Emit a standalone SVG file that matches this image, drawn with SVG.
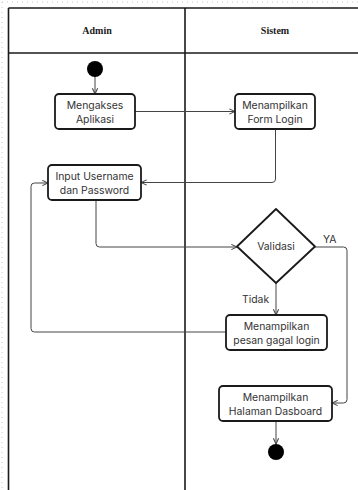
<svg xmlns="http://www.w3.org/2000/svg" width="358" height="490" viewBox="0 0 358 490">
<style>
.lane{fill:none;stroke:#1a1a1a;stroke-width:1.6}
.hdr{font-family:"Liberation Serif",serif;font-weight:bold;font-size:10px;fill:#1a1a1a;text-anchor:middle}
.box{fill:#fff;stroke:#1a1a1a;stroke-width:1.8}
.txt{font-family:Inter,"Noto Sans",sans-serif;font-size:10.4px;fill:#333;text-anchor:middle}
.lbl{font-family:Inter,"Noto Sans",sans-serif;font-size:10.4px;fill:#333}
.con{fill:none;stroke:#444;stroke-width:1;marker-end:url(#arr)}
.dot{fill:#000}
</style>
<defs>
<marker id="arr" viewBox="0 0 8 8" refX="7.5" refY="4" markerWidth="7" markerHeight="7" markerUnits="userSpaceOnUse" orient="auto">
<path d="M1,1 L7.5,4 L1,7" fill="none" stroke="#444" stroke-width="1.2"/>
</marker>
</defs>
<rect width="358" height="490" fill="#fff"/>
<g id="page-border" fill="none" stroke="#c8c8c8" stroke-width="1" stroke-dasharray="1 4">
<line x1="2" y1="2" x2="358" y2="2"/>
<line x1="2" y1="2" x2="2" y2="490"/>
</g>
<g id="swimlanes">
<line class="lane" x1="8.5" y1="8" x2="358" y2="8"/>
<line class="lane" x1="8.5" y1="53" x2="358" y2="53"/>
<line class="lane" x1="8.5" y1="8" x2="8.5" y2="490"/>
<line class="lane" x1="185" y1="8" x2="185" y2="490"/>
<text class="hdr" x="97" y="34">Admin</text>
<text class="hdr" x="275" y="34">Sistem</text>
</g>
<g id="connectors">
<path class="con" d="M95,76 V94"/>
<path class="con" d="M135,111.5 H235"/>
<path class="con" d="M275.5,129 V179 Q275.5,182.5 272,182.5 H141"/>
<path class="con" d="M96,200 V243.5 Q96,247 99.5,247 H237"/>
<path class="con" d="M315,247 H343.5 Q347,247 347,250.5 V399.5 Q347,403 343.5,403 H332"/>
<path class="con" d="M276,283 V315"/>
<path class="con" d="M226,332 H34.5 Q31,332 31,328.5 V186.5 Q31,183 34.5,183 H48"/>
<path class="con" d="M276,421 V444"/>
</g>
<g id="start"><circle class="dot" cx="95" cy="69" r="8"/></g>
<g id="mengakses">
<rect class="box" x="55" y="94" width="80" height="35" rx="4"/>
<text class="txt" x="95" y="109">Mengakses</text>
<text class="txt" x="95" y="123">Aplikasi</text>
</g>
<g id="form-login">
<rect class="box" x="235" y="94" width="80" height="35" rx="4"/>
<text class="txt" x="275" y="109">Menampilkan</text>
<text class="txt" x="275" y="123">Form Login</text>
</g>
<g id="input">
<rect class="box" x="48" y="165" width="93" height="35" rx="4"/>
<text class="txt" x="94.5" y="180">Input Username</text>
<text class="txt" x="94.5" y="194">dan Password</text>
</g>
<g id="validasi">
<path class="box" d="M276,209 L315,246.5 L276,283 L237,246.5 Z" stroke-linejoin="round"/>
<text class="txt" x="276" y="250">Validasi</text>
</g>
<g id="labels">
<text class="lbl" x="323" y="243">YA</text>
<text class="lbl" x="242" y="303">Tidak</text>
</g>
<g id="gagal">
<rect class="box" x="226" y="315" width="101" height="35" rx="4"/>
<text class="txt" x="276.5" y="330">Menampilkan</text>
<text class="txt" x="276.5" y="344">pesan gagal login</text>
</g>
<g id="dasboard">
<rect class="box" x="219" y="386" width="113" height="35" rx="4"/>
<text class="txt" x="275.5" y="401">Menampilkan</text>
<text class="txt" x="275.5" y="415">Halaman Dasboard</text>
</g>
<g id="end"><circle class="dot" cx="276" cy="452" r="8"/></g>
</svg>
